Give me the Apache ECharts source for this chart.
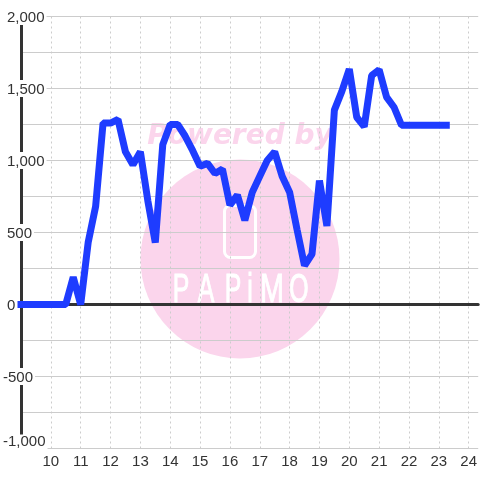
<!DOCTYPE html>
<html>
<head>
<meta charset="utf-8">
<script src="https://cdn.jsdelivr.net/npm/echarts@6/dist/echarts.min.js"></script>
<style>html,body{margin:0;padding:0;background:#fff}</style>
</head>
<body>
<div id="main" style="width:480px;height:480px"></div>
<script>
// hour of day, value
var hours = [9, 9.25, 9.5, 9.75, 10, 10.25, 10.5, 10.75, 11, 11.25, 11.5, 11.75, 12, 12.25, 12.5, 12.75, 13, 13.25, 13.5, 13.75,
    14, 14.25, 14.5, 14.75, 15, 15.25, 15.5, 15.75, 16, 16.25, 16.5, 16.75, 17, 17.25, 17.5, 17.75, 18, 18.25, 18.5, 18.75,
    19, 19.25, 19.5, 19.75, 20, 20.25, 20.5, 20.75, 21, 21.25, 21.5, 21.75, 22, 22.25, 22.5, 22.75, 23, 23.25];
var values = [0, 0, 0, 0, 0, 0, 0, 190, 0, 430, 680, 1260, 1260, 1285, 1060, 970, 1060, 720, 430, 1110,
    1250, 1250, 1170, 1070, 960, 980, 910, 940, 690, 760, 585, 780, 890, 1000, 1060, 890, 780, 520, 270, 350,
    860, 545, 1350, 1480, 1635, 1300, 1235, 1590, 1630, 1440, 1370, 1245, 1245, 1245, 1245, 1245, 1245, 1245];
var brand = ['P', 'A', 'P', 'i', 'M', 'O'];
var brandX = [181, 206, 233, 250, 272, 299];

var pink = '#fbd5ec';
var myChart = echarts.init(document.getElementById('main'), null, {renderer: 'canvas'});

var points = [];
for (var i = 0; i < hours.length; i++) {
    points.push([hours[i], values[i]]);
}

var marks = [
    {type: 'circle', z: -10, silent: true, shape: {cx: 240, cy: 259, r: 99.5}, style: {fill: pink}},
    {type: 'text', z: -9, silent: true, x: 240, y: 137, style: {
        text: 'Powered by', fill: pink, font: 'italic bold 28px "DejaVu Sans"', align: 'center', verticalAlign: 'middle'
    }},
    {type: 'rect', z: -9, silent: true, shape: {x: 224.5, y: 205.5, width: 31, height: 52, r: 6},
        style: {fill: 'none', stroke: '#fff', lineWidth: 3}}
];
brand.forEach(function (letter, i) {
    marks.push({type: 'text', z: -9, silent: true, x: brandX[i], y: 291, scaleX: letter === 'M' ? 0.72 : 0.62, style: {
        text: letter, fill: '#fff', stroke: '#fff', lineWidth: 1, font: '40px "Liberation Sans"', align: 'center', verticalAlign: 'middle'
    }});
});

var option = {
    animation: false,
    backgroundColor: '#fff',
    textStyle: {fontFamily: '"Liberation Sans"'},
    graphic: marks,
    grid: {left: 20.5, right: 0, top: 16.5, bottom: 31.5},
    xAxis: [{
        type: 'value',
        position: 'bottom',
        min: 9,
        max: 24.32,
        interval: 1,
        axisLine: {onZero: false, show: false},
        axisTick: {show: false},
        axisLabel: {
            color: '#333', fontSize: 15, margin: 6,
            showMinLabel: false, showMaxLabel: false
        },
        splitLine: {show: true, showMinLine: false, showMaxLine: false, lineStyle: {color: '#ccc', type: [2, 3], width: 1}}
    }, {
        // zero line
        type: 'value',
        position: 'bottom',
        min: 9,
        max: 24.32,
        axisLine: {onZero: true, show: true, lineStyle: {color: '#333', width: 3}},
        axisTick: {show: false},
        axisLabel: {show: false},
        splitLine: {show: false}
    }],
    yAxis: {
        type: 'value',
        min: -1000,
        max: 2000,
        interval: 250,
        axisLine: {show: true, onZero: false, lineStyle: {color: '#333', width: 3}},
        axisTick: {show: false},
        splitLine: {show: true, lineStyle: {color: '#ccc', width: 1}},
        axisLabel: {
            align: 'left',
            margin: 18,
            formatter: function (v) {
                if (v % 500 !== 0) return '';
                var s = echarts.format.addCommas(v);
                if (v === -1000) return '{low|' + s + '}';
                return v < 0 ? '{neg|' + s + '}' : '{pos|' + s + '}';
            },
            rich: {
                low: {color: '#333', fontSize: 15, backgroundColor: '#fff', padding: [0, 2, 13, 0]},
                neg: {color: '#333', fontSize: 15, backgroundColor: '#fff', padding: [2, 2, 0, 0]},
                pos: {color: '#333', fontSize: 15, backgroundColor: '#fff', padding: [2, 2, 0, 4]}
            }
        }
    },
    series: [{
        type: 'line',
        data: points,
        showSymbol: false,
        z: 5,
        clip: false,
        lineStyle: {color: '#1e3cff', width: 7, cap: 'square', join: 'bevel'}
    }]
};
myChart.setOption(option);
</script>
</body>
</html>
